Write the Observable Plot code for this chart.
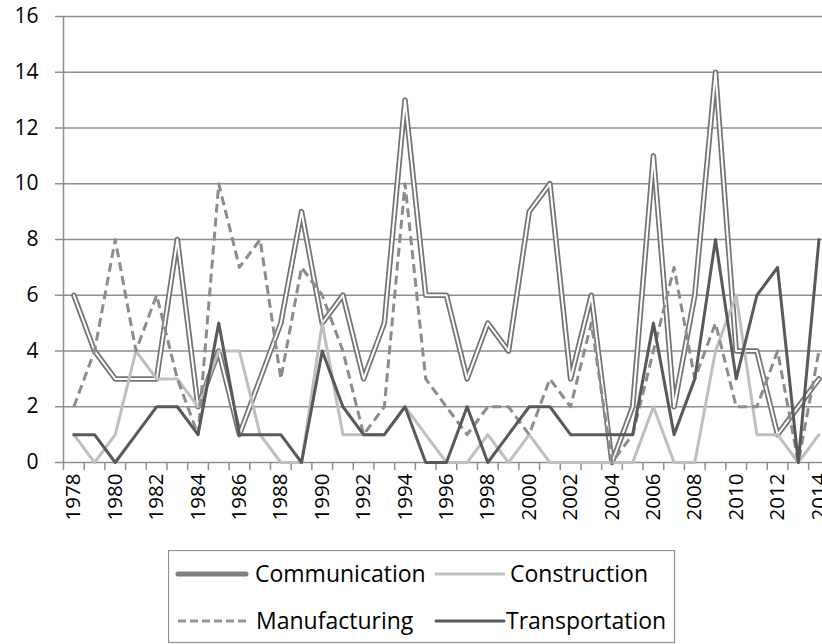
<!DOCTYPE html>
<html><head><meta charset="utf-8">
<script src="https://cdn.jsdelivr.net/npm/d3@7"></script>
<script src="https://cdn.jsdelivr.net/npm/@observablehq/plot@0.6"></script>
<style>
html,body{margin:0;padding:0;background:#fff;overflow:hidden;}
#wrap{position:relative;width:822px;height:644px;overflow:hidden;}
#legend{position:absolute;left:168px;top:550px;}
</style></head><body><div id="wrap"><div id="chart"></div><div id="legend"></div></div>
<script>
const years = [1978,1979,1980,1981,1982,1983,1984,1985,1986,1987,1988,1989,1990,1991,1992,1993,1994,1995,1996,1997,1998,1999,2000,2001,2002,2003,2004,2005,2006,2007,2008,2009,2010,2011,2012,2013,2014];
const communication = [6,4,3,3,3,8,2,4,1,3,5,9,5,6,3,5,13,6,6,3,5,4,9,10,3,6,0,2,11,2,6,14,4,4,1,2,3];
const construction = [1,0,1,4,3,3,2,4,4,1,0,0,5,1,1,1,2,1,0,0,1,0,1,0,0,0,0,0,2,0,0,4,6,1,1,0,1];
const manufacturing = [2,4,8,4,6,3,1,10,7,8,3,7,6,4,1,2,10,3,2,1,2,2,1,3,2,5,0,1,4,7,3,5,2,2,4,0,4];
const transportation = [1,1,0,1,2,2,1,5,1,1,1,0,4,2,1,1,2,0,0,2,0,1,2,2,1,1,1,1,5,1,3,8,3,6,7,0,8];
const seriesNames = ["Communication","Construction","Manufacturing","Transportation"];
const yTicks = [0,2,4,6,8,10,12,14,16];
const xTickLabels = [1978,1980,1982,1984,1986,1988,1990,1992,1994,1996,1998,2000,2002,2004,2006,2008,2010,2012,2014];

const rows = (name, vals) => years.map((year, i) => ({year, value: vals[i], series: name}));
const comm = rows(seriesNames[0], communication);
const cons = rows(seriesNames[1], construction);
const manu = rows(seriesNames[2], manufacturing);
const trans = rows(seriesNames[3], transportation);
const catEdges = years.map(y => y - 0.5);

const font = "'Open Sans', sans-serif";
const grid = "#8e8e8e";

const chart = Plot.plot({
  width: 822, height: 548,
  marginLeft: 63, marginRight: 0, marginTop: 16, marginBottom: 86,
  style: {fontFamily: font, fontSize: "20px", color: "#000", background: "#fff"},
  x: {domain: [1977.5, 2014.17]},
  y: {domain: [0, 16]},
  marks: [
    Plot.ruleY(yTicks, {stroke: grid, strokeWidth: 1.5}),
    Plot.ruleX([1977.5], {stroke: grid, strokeWidth: 1.5}),
    Plot.axisY({ticks: yTicks, tickSize: 8, tickPadding: 17, stroke: grid, strokeWidth: 1.5, fontSize: 21, tickFormat: d => String(d), label: null}),
    Plot.axisX({ticks: catEdges, tickSize: 8, tickFormat: () => "", stroke: grid, strokeWidth: 1.5, label: null}),
    Plot.axisX({ticks: xTickLabels, tickSize: 0, tickPadding: 11, tickRotate: -90, fontSize: 20.5, tickFormat: d => String(d), label: null}),
    Plot.line(comm, {x: "year", y: "value", stroke: "#747474", strokeWidth: 5.5}),
    Plot.line(comm, {x: "year", y: "value", stroke: "#ffffff", strokeWidth: 2}),
    Plot.line(cons, {x: "year", y: "value", stroke: "#bfbfbf", strokeWidth: 3}),
    Plot.line(manu, {x: "year", y: "value", stroke: "#8c8c8c", strokeWidth: 3, strokeDasharray: "9 5", strokeLinecap: "butt"}),
    Plot.line(trans, {x: "year", y: "value", stroke: "#595959", strokeWidth: 3})
  ]
});
document.getElementById("chart").appendChild(chart);

// legend
const legendItems = [
  {name: seriesNames[0], color: "#808080", width: 5, dash: null, x: 10, y: 24, tx: 87},
  {name: seriesNames[1], color: "#bfbfbf", width: 3, dash: null, x: 268, y: 24, tx: 342},
  {name: seriesNames[2], color: "#969696", width: 3, dash: "8 4", x: 10, y: 71, tx: 88},
  {name: seriesNames[3], color: "#595959", width: 3, dash: null, x: 268, y: 71, tx: 338}
];
const lg = d3.select("#legend").append("svg").attr("width", 508).attr("height", 94)
  .style("font-family", font).style("font-size", "23px");
lg.append("rect").attr("x", 0.5).attr("y", 0.5).attr("width", 506).attr("height", 92)
  .attr("fill", "#fff").attr("stroke", "#8e8e8e").attr("stroke-width", 1.2);
for (const it of legendItems) {
  lg.append("line").attr("x1", it.x).attr("x2", it.x + 68).attr("y1", it.y).attr("y2", it.y)
    .attr("stroke", it.color).attr("stroke-width", it.width)
    .attr("stroke-linecap", it.dash ? "butt" : "round")
    .attr("stroke-dasharray", it.dash);
  lg.append("text").attr("x", it.tx).attr("y", it.y).attr("dy", "0.35em").attr("fill", "#000").text(it.name);
}
</script></body></html>
